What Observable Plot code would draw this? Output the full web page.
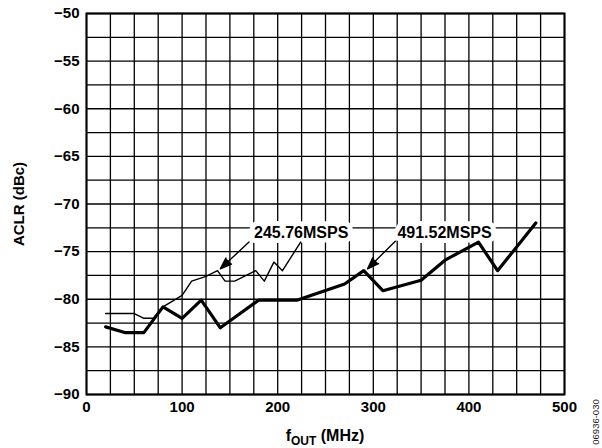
<!DOCTYPE html>
<html>
<head>
<meta charset="utf-8">
<script src="https://cdn.jsdelivr.net/npm/d3@7"></script>
<script src="https://cdn.jsdelivr.net/npm/@observablehq/plot@0.6"></script>
<style>
  html, body { margin: 0; padding: 0; background: #fff; }
  #chart svg { display: block; }
</style>
</head>
<body>
<div id="chart"></div>
<script>
// 245.76 MSPS series (thin line)
const freq245 = [20, 50, 60, 70, 80, 90, 100, 110, 125, 137, 145, 155, 177, 186, 196, 205, 224];
const aclr245 = [-81.5, -81.5, -82, -82, -80.8, -80.2, -79.6, -78.1, -77.6, -77, -78.1, -78.1, -77, -78.1, -76.1, -77, -74];

// 491.52 MSPS series (thick line)
const freq491 = [20, 40, 60, 80, 100, 120, 140, 180, 220, 270, 290, 310, 350, 375, 410, 430, 470];
const aclr491 = [-82.9, -83.5, -83.5, -80.8, -82, -80.1, -83, -80.1, -80.1, -78.4, -77, -79.1, -78, -75.9, -74, -77, -72];

// axis ticks
const xTickLabels = [0, 100, 200, 300, 400, 500];
const yTickLabels = [-90, -85, -80, -75, -70, -65, -60, -55, -50];
const xGrid = d3.range(0, 501, 25);
const yGrid = d3.range(-90, -49, 2.5);

// annotations
const labelNames = ["245.76MSPS", "491.52MSPS"];
const labelX = [224.6, 374.5];
const labelY = [-73.05, -73.05];
const arrowFromX = [170, 323];
const arrowFromY = [-74, -73.9];
const arrowToX = [140, 294];
const arrowToY = [-76.8, -76.8];

const s245 = freq245.map((f, i) => ({f, v: aclr245[i]}));
const s491 = freq491.map((f, i) => ({f, v: aclr491[i]}));
const labels = labelNames.map((t, i) => ({t, x: labelX[i], y: labelY[i]}));
const arrows = labelNames.map((t, i) => ({x1: arrowFromX[i], y1: arrowFromY[i], x2: arrowToX[i], y2: arrowToY[i]}));

const font = "'Liberation Sans', Arial, Helvetica, sans-serif";

const chart = Plot.plot({
  width: 602,
  height: 448,
  marginLeft: 86,
  marginRight: 38,
  marginTop: 13,
  marginBottom: 54,
  style: {fontFamily: font, fontSize: "15px", fontWeight: "bold", color: "black", background: "white"},
  x: {domain: [0, 500]},
  y: {domain: [-90, -50]},
  marks: [
    Plot.gridX(xGrid, {stroke: "black", strokeOpacity: 1, strokeWidth: 1.3}),
    Plot.gridY(yGrid, {stroke: "black", strokeOpacity: 1, strokeWidth: 1.3}),
    Plot.frame({stroke: "black", strokeWidth: 2}),
    Plot.axisX({ticks: xTickLabels, tickSize: 0, tickPadding: 7, label: null}),
    Plot.axisY({ticks: yTickLabels, tickSize: 0, tickPadding: 7, label: "ACLR (dBc)", labelAnchor: "center", labelArrow: "none", labelOffset: 73}),
    Plot.text(labels, {x: "x", y: "y", text: "t", fill: "black", stroke: "white", strokeWidth: 10, fontSize: 16, fontWeight: "bold"}),
    Plot.line(s245, {x: "f", y: "v", stroke: "black", strokeWidth: 1.4}),
    Plot.line(s491, {x: "f", y: "v", stroke: "black", strokeWidth: 3.2}),
    Plot.arrow(arrows, {x1: "x1", y1: "y1", x2: "x2", y2: "y2", stroke: "black", fill: "black", strokeWidth: 1.4, headLength: 13, headAngle: 40})
  ]
});

document.getElementById("chart").appendChild(chart);

// x-axis title with subscript
const svg = d3.select(chart);
const [xr0, xr1] = chart.scale("x").range;
const xt = svg.append("text")
  .attr("x", (xr0 + xr1) / 2)
  .attr("y", 441)
  .attr("text-anchor", "middle")
  .attr("font-family", font)
  .attr("font-weight", "bold")
  .attr("font-size", 16)
  .attr("fill", "black");
xt.append("tspan").text("f");
xt.append("tspan").attr("font-size", 12).attr("dy", 4).text("OUT");
xt.append("tspan").attr("dy", -4).text(" (MHz)");

// figure code
svg.append("text")
  .attr("transform", "translate(599,422) rotate(-90)")
  .attr("text-anchor", "middle")
  .attr("font-family", font)
  .attr("font-weight", "normal")
  .attr("font-size", 9.5)
  .attr("fill", "#222")
  .text("06936-030");
</script>
</body>
</html>
